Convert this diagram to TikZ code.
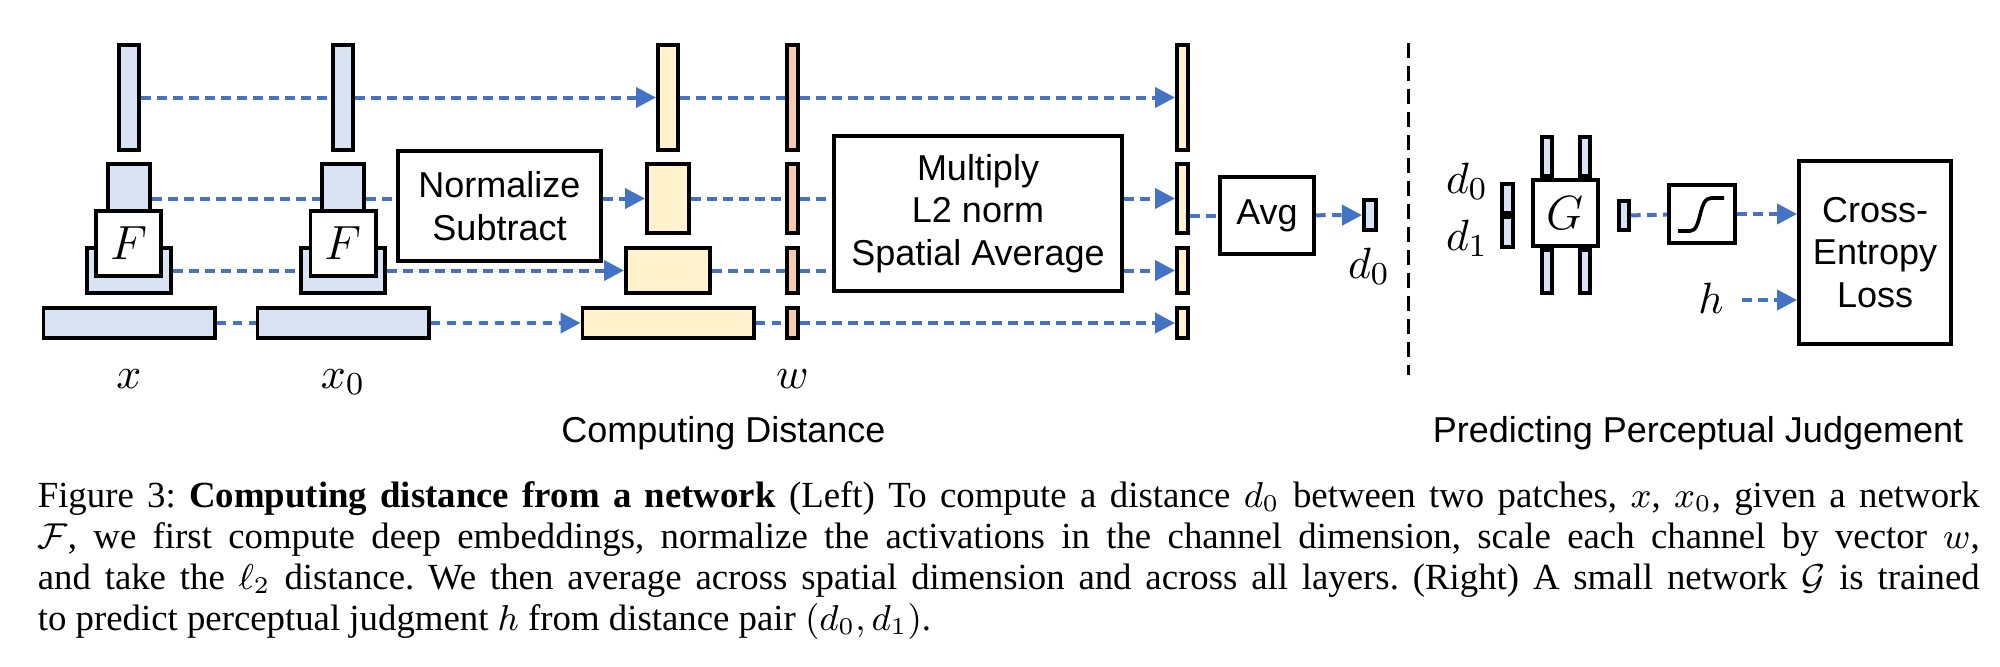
\documentclass[tikz,border=0pt]{standalone}
\usepackage{fontspec}
\setmainfont{Liberation Serif}
\setsansfont{Liberation Sans}
\usetikzlibrary{arrows.meta}
\definecolor{featblue}{RGB}{218,227,243}
\definecolor{featyellow}{RGB}{255,242,204}
\definecolor{featorange}{RGB}{248,203,173}
\definecolor{flowblue}{RGB}{68,114,196}
\frenchspacing
\begin{document}
\begin{tikzpicture}[x=0.25pt, y=-0.25pt,
  sz/.style 2 args={minimum width=#1*0.25pt-0.9pt, minimum height=#2*0.25pt-0.9pt},
  bar/.style={draw, line width=0.9pt, inner sep=0pt},
  opbox/.style={draw, line width=0.9pt, fill=white, inner sep=0pt, align=center, font=\sffamily\fontsize{9}{10.6}\selectfont},
  flow/.style={flowblue, line width=1pt, dash pattern=on 2.4pt off 1.6pt},
  flowarr/.style={flow, -{Triangle[length=5pt,width=5pt]}},
  mlabel/.style={inner sep=0pt, anchor=base, font=\fontsize{11}{13}\selectfont},
  tlabel/.style={inner sep=0pt, anchor=base, font=\sffamily\fontsize{9}{10.6}\selectfont},
  captext/.style={inner sep=0pt, anchor=base west, font=\fontsize{9.2}{10.25}\selectfont}]
\useasboundingbox (0,0) rectangle (2000,666);

% layers of the two patches, normalized and weighted
\foreach \i/\bw/\by/\bh in {1/24/97.5/109, 2/46/198.5/73, 3/88/270.5/49, 4/175/323/34} {
  \node[bar, fill=featblue, sz={\bw}{\bh}] (lx\i) at (129,\by) {};
  \node[bar, fill=featblue, sz={\bw}{\bh}] (lz\i) at (343,\by) {};
  \node[bar, fill=featyellow, sz={\bw}{\bh}] (ly\i) at (668,\by) {};
  \node[bar, fill=featorange, sz={15}{\bh}] (lw\i) at (792.5,\by) {};
  \node[bar, fill=featyellow, sz={15}{\bh}] (lr\i) at (1182.5,\by) {};
}
\node[opbox, sz={69}{69}, font=\fontsize{11.5}{13}\selectfont] (fx) at (128.5,243.5) {$F$};
\node[opbox, sz={69}{69}, font=\fontsize{11.5}{13}\selectfont] (fz) at (343,243.5) {$F$};
\node[opbox, sz={207}{114}] (norm) at (499.5,206) {Normalize\\Subtract};
\node[opbox, sz={292}{159}] (mult) at (978,213.5) {Multiply\\L2 norm\\Spatial Average};
\node[opbox, sz={98}{81}] (avg) at (1267,215.5) {Avg};
\node[bar, fill=featblue, sz={16}{34}] (dz0) at (1370,215) {};

\node[mlabel] (labx) at (129,388) {$x$};
\node[mlabel] (labz) at (343,388) {$x_0$};
\node[mlabel] (labw) at (792.5,388) {$w$};
\node[mlabel] (labd) at (1369,278) {$d_0$};
\node[tlabel] (tleft) at (723.5,442) {Computing Distance};

\foreach \i in {1,...,4} {
  \draw[flow] (lx\i) -- (lz\i);
  \draw[flow] (ly\i) -- (lw\i);
}
\foreach \i in {1,3,4} \draw[flowarr] (lz\i) -- (ly\i);
\draw[flow] (lz2) -- (lz2 -| norm.west);
\draw[flowarr] (norm.east |- ly2) -- (ly2);
\foreach \i in {1,4} \draw[flowarr] (lw\i) -- (lr\i);
\foreach \i in {2,3} {
  \draw[flow] (lw\i) -- (lw\i -| mult.west);
  \draw[flowarr] (mult.east |- lr\i) -- (lr\i);
}
\draw[flow] (lr2.east |- avg.west) -- (avg.west);
\draw[flowarr] (avg) -- (dz0);

% separator
\draw[line width=0.75pt, dash pattern=on 3.75pt off 2pt] (1408,43) -- (1408,375);

% judgement network
\node[bar, fill=featblue, sz={15}{33}] (dd0) at (1507.5,198.5) {};
\node[bar, fill=featblue, sz={15}{34}] (dd1) at (1507.5,232) {};
\node[mlabel] (labd0) at (1467,193) {$d_0$};
\node[mlabel] (labd1) at (1467,250) {$d_1$};
\node[bar, fill=featblue, sz={14}{43}] (gt1) at (1547,156.5) {};
\node[bar, fill=featblue, sz={14}{43}] (gt2) at (1585,156.5) {};
\node[bar, fill=featblue, sz={14}{47}] (gb1) at (1547,271.5) {};
\node[bar, fill=featblue, sz={14}{47}] (gb2) at (1585,271.5) {};
\node[opbox, sz={69}{70}, font=\fontsize{11.5}{13}\selectfont] (gnet) at (1565.5,213) {$G$};
\node[bar, fill=featblue, sz={14}{33}] (sb) at (1624,215.5) {};
\node[opbox, sz={70}{62}] (sg) at (1702,214) {};
\draw[line width=0.9pt] (1678,231) -- (1690,231) .. controls (1702,231) and (1698,198) .. (1711,198) -- (1724,198);
\node[opbox, sz={156}{187}] (ce) at (1875,252.5) {Cross-\\Entropy\\Loss};
\node[mlabel] (labh) at (1711,313) {$h$};
\draw[flow] (sb) -- (sg);
\draw[flowarr] (sg) -- (sg -| ce.west);
\draw[flowarr] (1742,300) -- (ce.west |- 0,300);
\node[tlabel] (tright) at (1698,442) {Predicting Perceptual Judgement};

% caption
\node[captext] (cap1) at (37,507) {\makebox[485.5pt][s]{Figure 3: \textbf{Computing distance from a network} (Left) To compute a distance $d_0$ between two patches, $x$, $x_0$, given a network}};
\node[captext] (cap2) at (37,548) {\makebox[485.5pt][s]{$\mathcal{F}$, we first compute deep embeddings, normalize the activations in the channel dimension, scale each channel by vector $w$,}};
\node[captext] (cap3) at (37,589) {\makebox[485.5pt][s]{and take the $\ell_2$ distance. We then average across spatial dimension and across all layers. (Right) A small network $\mathcal{G}$ is trained}};
\node[captext] (cap4) at (37,630) {to predict perceptual judgment $h$ from distance pair $(d_0, d_1)$.};
\end{tikzpicture}
\end{document}
